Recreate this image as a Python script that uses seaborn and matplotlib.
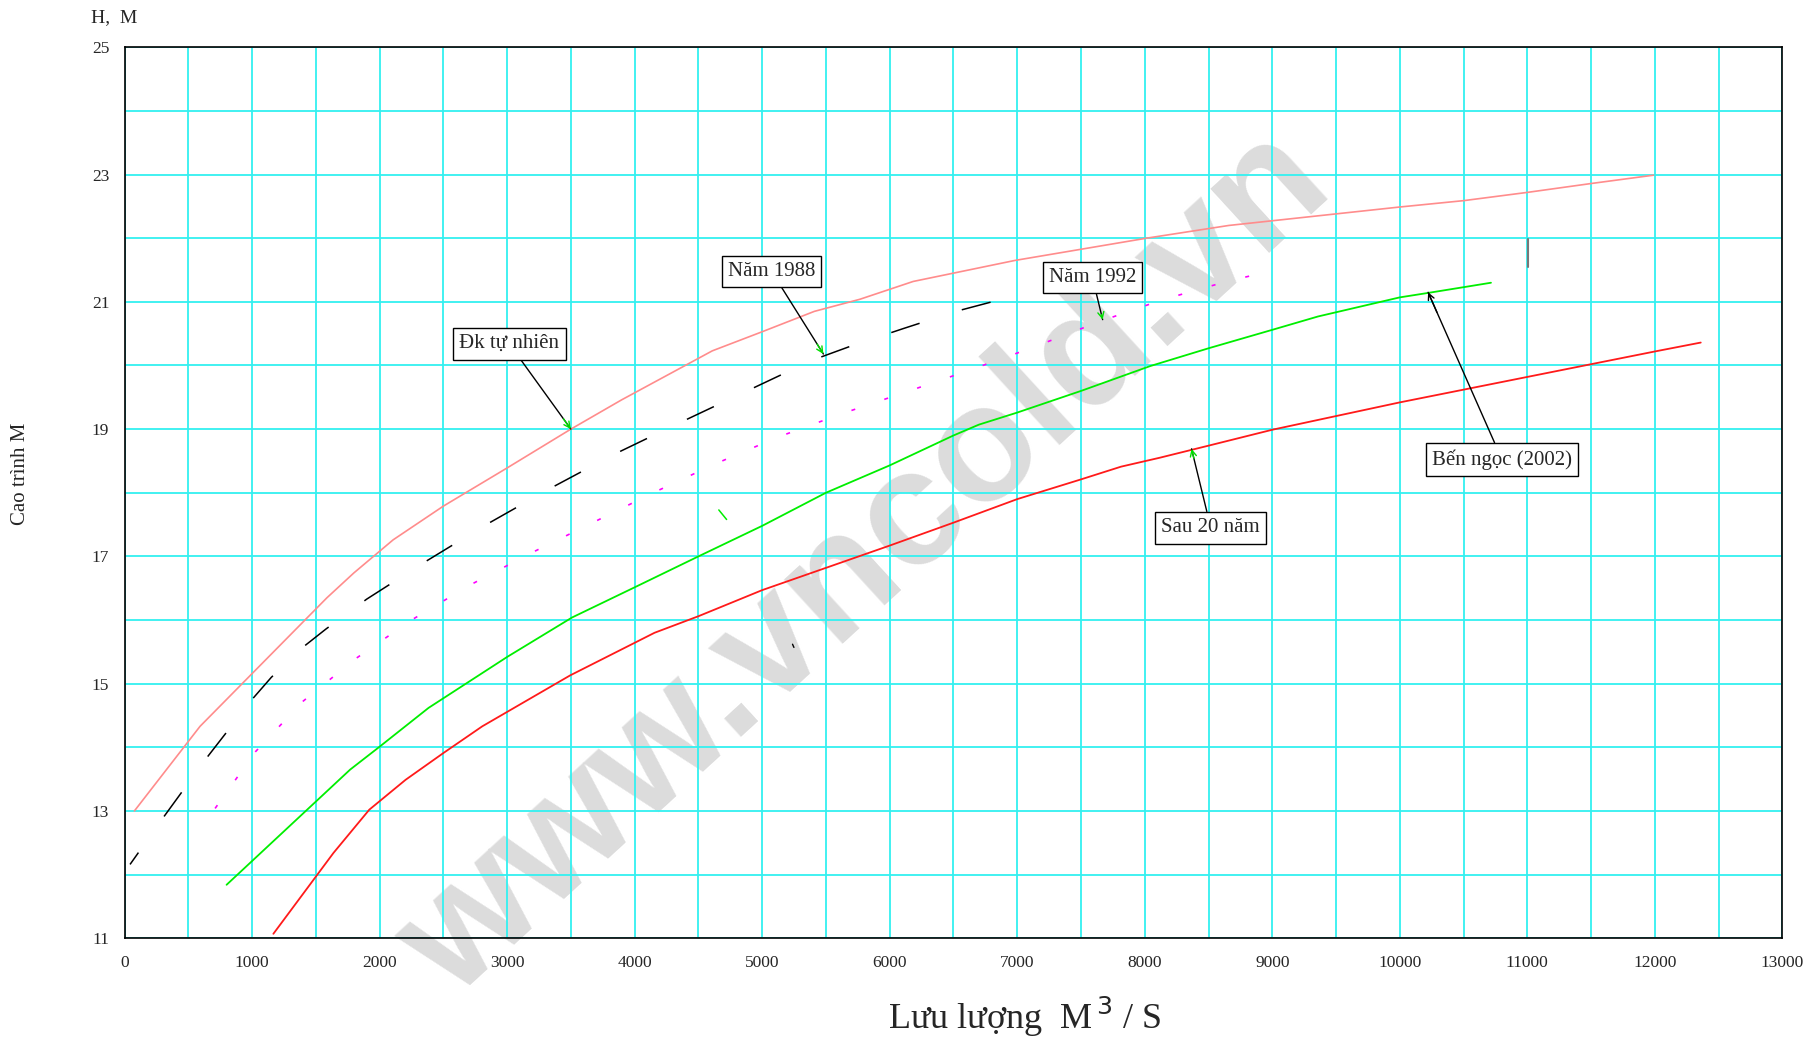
import numpy as np
import matplotlib
matplotlib.use("Agg")
import matplotlib.pyplot as plt
import seaborn as sns
import pandas as pd

# Đk tự nhiên (đường hồng)
q_tn = [77, 592, 1587, 1798, 2106, 2500, 3000, 3500, 3898, 4609, 5000, 5409, 5766, 6184, 6981,
        8014, 8659, 10000, 10501, 11002, 11504, 11990]
h_tn = [13.0, 14.33, 16.35, 16.74, 17.26, 17.79, 18.39, 19.0, 19.46, 20.23, 20.53, 20.85, 21.04, 21.32, 21.65,
        22.0, 22.2, 22.49, 22.59, 22.72, 22.86, 22.99]

# Năm 1988 (nét đứt đen)
q_88 = [43, 312, 650, 1003, 1151, 1403, 1580, 1900, 2345, 2828, 3330, 3835, 4353, 4871, 5389, 5703,
        6107, 6538, 6821]
h_88 = [12.16, 12.92, 13.85, 14.76, 15.1, 15.58, 15.86, 16.33, 16.9, 17.49, 18.06, 18.6, 19.1, 19.59, 20.08, 20.31,
        20.58, 20.86, 21.01]

# Năm 1992 (chấm hồng tím)
q_92 = [710, 1026, 1397, 1810, 2250, 2709, 3185, 3661, 4146, 4628, 5118, 5622, 6124, 6632, 7132,
        7632, 8135, 8643, 8960]
h_92 = [13.04, 13.93, 14.72, 15.39, 16.0, 16.55, 17.05, 17.52, 18.0, 18.45, 18.87, 19.24, 19.58, 19.93, 20.29,
        20.68, 21.03, 21.32, 21.47]

# Bến ngọc (2002) (xanh lá)
q_bn = [800, 1769, 2000, 2384, 3000, 3509, 4006, 4500, 5000, 5500, 6000, 6500, 6699, 7000, 7500,
        8042, 8500, 9000, 9359, 10000, 10222, 10500, 10715]
h_bn = [11.84, 13.65, 14.01, 14.62, 15.42, 16.04, 16.52, 17.0, 17.48, 18.0, 18.43, 18.9, 19.07, 19.26, 19.6,
        19.99, 20.27, 20.56, 20.77, 21.07, 21.14, 21.23, 21.3]

# Sau 20 năm (đỏ)
q_20 = [1167, 1638, 1919, 2204, 2500, 2805, 3494, 4156, 4500, 5000, 5500, 6000, 6500, 7000, 7500,
        7814, 8117, 8500, 9000, 10000, 11000, 12000, 12360]
h_20 = [11.07, 12.34, 13.02, 13.49, 13.91, 14.33, 15.13, 15.8, 16.06, 16.47, 16.82, 17.17, 17.53, 17.9, 18.21,
        18.41, 18.55, 18.74, 18.99, 19.42, 19.82, 20.22, 20.36]

# nhãn chú thích: text, vị trí hộp, điểm mũi tên
labels = ["Đk tự nhiên", "Năm 1988", "Năm 1992", "Sau 20 năm", "Bến ngọc (2002)"]
label_q = [3017, 5073, 7590, 8518, 10802]
label_h = [20.34, 21.48, 21.38, 17.45, 18.52]
tip_q = [3500, 5480, 7670, 8367, 10222]
tip_h = [19.0, 20.18, 20.72, 18.69, 21.15]
head_colors = ["#00dd00", "#00dd00", "#00dd00", "#00dd00", "black"]

sns.set_style("white")
plt.rcParams['font.family'] = ['Liberation Serif', 'DejaVu Serif']

fig = plt.figure(figsize=(18.13, 10.41), dpi=100)
ax = fig.add_axes([0.0687, 0.0987, 0.9144, 0.8559])
ax.patch.set_visible(False)

sns.lineplot(x=q_tn, y=h_tn, ax=ax, color="#ff8c8c", lw=1.2, estimator=None, sort=False)
sns.lineplot(x=q_88, y=h_88, ax=ax, color="black", lw=1.1, ls=(10, (19.5, 29)), estimator=None, sort=False)
sns.lineplot(x=q_92, y=h_92, ax=ax, color="#ff00ff", lw=1.2, ls=(0, (2.4, 18.4)), estimator=None, sort=False)
sns.lineplot(x=q_bn, y=h_bn, ax=ax, color="#00ee00", lw=1.3, estimator=None, sort=False)
sns.lineplot(x=q_20, y=h_20, ax=ax, color="#ff1a1a", lw=1.3, estimator=None, sort=False)

# vài nét lạc trên bản vẽ gốc
ax.plot([4660, 4721], [17.73, 17.58], color="#00ee00", lw=1.1)
ax.plot([11002, 11002], [21.55, 21.98], color="#777777", lw=1.5)
ax.plot([5238, 5249], [15.62, 15.57], color="black", lw=1)

for t, lq, lh, tq, th, hc in zip(labels, label_q, label_h, tip_q, tip_h, head_colors):
    ax.annotate(t, xy=(tq, th), xytext=(lq, lh), ha="center", va="center", fontsize=15,
                bbox=dict(boxstyle="square,pad=0.3", fc="white", ec="black", lw=1),
                arrowprops=dict(arrowstyle="-", color="black", lw=1, shrinkA=0, shrinkB=0),
                zorder=5)
    sq = tq + 0.12 * (lq - tq)
    sh = th + 0.12 * (lh - th)
    ax.annotate("", xy=(tq, th), xytext=(sq, sh),
                arrowprops=dict(arrowstyle="->", color=hc, lw=1, shrinkA=0, shrinkB=0,
                                mutation_scale=11),
                zorder=6)

ax.set_xlim(0, 13000)
ax.set_ylim(11, 25)
ax.set_xticks(np.arange(0, 13001, 1000))
ax.set_xticks(np.arange(500, 13000, 1000), minor=True)
ax.set_yticks(np.arange(11, 26, 2))
ax.set_yticks(np.arange(12, 25, 2), minor=True)
ax.grid(True, which="both", color="#33f0f0", lw=1.3)
ax.set_axisbelow(True)
ax.tick_params(axis="both", which="both", length=0)
ax.tick_params(axis="x", labelsize=12.5, pad=12)
ax.tick_params(axis="y", labelsize=12.5, pad=11)
for s in ax.spines.values():
    s.set_color("black")
    s.set_linewidth(1.2)

fig.text(0.063, 0.983, "H,  M", fontsize=14, ha="center", va="center")
fig.text(0.0115, 0.545, "Cao trình M", fontsize=15, rotation=90, ha="center", va="center")
fig.text(0.565, 0.023, r"Lưu lượng  M$^{\,3}$ / S", fontsize=26, ha="center", va="center")

# watermark (nằm dưới lưới)
fig.text(0.478, 0.458, "www.vncold.vn", fontsize=119, fontweight="bold", family="Liberation Sans",
         color="#dcdcdc", rotation=42.5, ha="center", va="center", zorder=-1)

fig.savefig("out.png", dpi=100)
